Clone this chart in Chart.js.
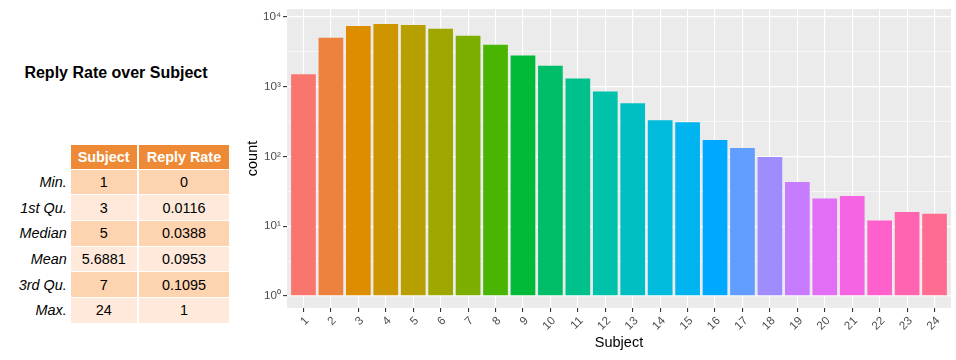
<!DOCTYPE html>
<html>
<head>
<meta charset="utf-8">
<script src="https://cdn.jsdelivr.net/npm/chart.js@4/dist/chart.umd.min.js"></script>
<style>
  html, body { margin: 0; padding: 0; background: #ffffff; }
  body { width: 956px; height: 360px; position: relative; overflow: hidden; font-family: "Liberation Sans", Arial, Helvetica, sans-serif; }
  #title { position: absolute; left: 0; width: 232px; top: 64px; text-align: center; font-weight: bold; font-size: 16px; color: #000; white-space: nowrap; }
  .cell { position: absolute; box-sizing: border-box; font-size: 14.4px; color: #000; display: flex; align-items: center; justify-content: center; white-space: nowrap; }
  .hdr { background: #EE8A35; color: #fff; font-weight: bold; }
  .lab { justify-content: flex-end; font-style: italic; padding-right: 4px; }
  #chartWrap { position: absolute; left: 230px; top: 0; width: 726px; height: 360px; }
</style>
</head>
<body>
<div id="title">Reply Rate over Subject</div>
<div id="tbl"></div>
<div id="chartWrap"><canvas id="c" width="726" height="360"></canvas></div>
<script>
// ---- data ----
const categories = ['1','2','3','4','5','6','7','8','9','10','11','12','13','14','15','16','17','18','19','20','21','22','23','24'];
const counts = [1510, 5030, 7450, 7950, 7690, 6750, 5370, 3990, 2790, 2000, 1310, 856, 577, 331, 309, 172, 132, 98, 43, 25, 27, 12, 16, 15];
const yTickValues = [1, 10, 100, 1000, 10000];
const yTickLabels = ['10\u2070', '10\u00B9', '10\u00B2', '10\u00B3', '10\u2074'];
const yMinorValues = [3.1623, 31.623, 316.23, 3162.3];

const tableHeader = ['Subject', 'Reply Rate'];
const statLabels = ['Min.', '1st Qu.', 'Median', 'Mean', '3rd Qu.', 'Max.'];
const subjectStats = ['1', '3', '5', '5.6881', '7', '24'];
const replyStats = ['0', '0.0116', '0.0388', '0.0953', '0.1095', '1'];

// ---- table ----
(function buildTable() {
  const tbl = document.getElementById('tbl');
  const colX = [0, 70.7, 137.7, 229.3];
  const headTop = 145, headH = 24.3, rowH = 25.67;
  function add(cls, x0, x1, y0, h, text, bg) {
    const d = document.createElement('div');
    d.className = 'cell ' + cls;
    d.style.left = x0 + 'px'; d.style.width = (x1 - x0) + 'px';
    d.style.top = y0 + 'px'; d.style.height = h + 'px';
    if (bg) d.style.background = bg;
    d.textContent = text;
    tbl.appendChild(d);
  }
  add('hdr', colX[1], colX[2] - 1, headTop, headH - 0.5, tableHeader[0]);
  add('hdr', colX[2] + 1, colX[3], headTop, headH - 0.5, tableHeader[1]);
  statLabels.forEach((lab, r) => {
    const y = headTop + headH + r * rowH;
    const bg = r % 2 === 0 ? '#FDD3B0' : '#FEE9DA';
    add('lab', colX[0], colX[1], y, rowH, lab);
    add('', colX[1], colX[2] - 1, y + 0.5, rowH - 1, subjectStats[r], bg);
    add('', colX[2] + 1, colX[3], y + 0.5, rowH - 1, replyStats[r], bg);
  });
})();

// ---- colours (ggplot default hue palette) ----
function hcl(h, c, l) {
  const hr = h * Math.PI / 180;
  const u = c * Math.cos(hr), v = c * Math.sin(hr);
  const Xn = 95.047, Yn = 100, Zn = 108.883;
  const den = Xn + 15 * Yn + 3 * Zn;
  const un = 4 * Xn / den, vn = 9 * Yn / den;
  const Y = l > 8 ? Yn * Math.pow((l + 16) / 116, 3) : Yn * l / 903.3;
  const up = u / (13 * l) + un, vp = v / (13 * l) + vn;
  const X = 9 * Y * up / (4 * vp);
  const Z = -X / 3 - 5 * Y + 3 * Y / vp;
  const x = X / 100, y = Y / 100, z = Z / 100;
  let rgb = [
    3.240479 * x - 1.537150 * y - 0.498535 * z,
    -0.969256 * x + 1.875992 * y + 0.041556 * z,
    0.055648 * x - 0.204043 * y + 1.057311 * z
  ];
  rgb = rgb.map(t => {
    t = t > 0.00304 ? 1.055 * Math.pow(t, 1 / 2.4) - 0.055 : 12.92 * t;
    return Math.round(Math.min(1, Math.max(0, t)) * 255);
  });
  return 'rgb(' + rgb.join(',') + ')';
}
const colors = categories.map((c, i) => hcl(15 + 15 * i, 100, 65));

// ---- chart ----
const FONT = "'Liberation Sans', Arial, Helvetica, sans-serif";
const panelBg = {
  id: 'panelBg',
  beforeDraw(chart) {
    const a = chart.chartArea, ctx = chart.ctx;
    ctx.save();
    ctx.fillStyle = '#EBEBEB';
    ctx.fillRect(a.left, a.top, a.right - a.left, a.bottom - a.top);
    ctx.restore();
  }
};
const isMajorY = v => yTickValues.some(t => Math.abs(t - v) < 1e-6);

new Chart(document.getElementById('c'), {
  type: 'bar',
  data: {
    datasets: [{
      data: counts.map((v, i) => ({ x: i + 1, y: v })),
      backgroundColor: colors,
      borderWidth: 0,
      base: 1,
      barPercentage: 0.9,
      categoryPercentage: 1.0
    }]
  },
  options: {
    responsive: false,
    animation: false,
    layout: { padding: { top: 7, right: 5, left: 0, bottom: 0 } },
    plugins: { legend: { display: false }, tooltip: { enabled: false } },
    scales: {
      x: {
        type: 'linear',
        min: 0.4, max: 24.6,
        offset: false,
        afterBuildTicks: s => { s.ticks = categories.map((c, i) => ({ value: i + 1 })); },
        afterFit: s => { s.height = 52; },
        border: { display: false },
        grid: { color: '#FFFFFF', lineWidth: 1.1, tickColor: '#333333', tickLength: 4, tickWidth: 1.1, offset: false },
        ticks: {
          autoSkip: false, minRotation: 45, maxRotation: 45, padding: 2, labelOffset: 3.5,
          color: '#4D4D4D', font: { family: FONT, size: 11.7 },
          callback: (v, i) => categories[i]
        },
        title: { display: true, text: 'Subject', color: '#000000', font: { family: FONT, size: 14.5 }, padding: { top: 0, bottom: 8.3 } }
      },
      y: {
        type: 'logarithmic',
        min: 0.67, max: 13000,
        afterBuildTicks: s => {
          const all = yTickValues.concat(yMinorValues).sort((a, b) => a - b);
          s.ticks = all.map(v => ({ value: v }));
        },
        afterFit: s => { s.width = 57; },
        border: { display: false },
        grid: {
          color: '#FFFFFF',
          lineWidth: ctx => (ctx.tick && isMajorY(ctx.tick.value)) ? 1.2 : 0.6,
          tickColor: ctx => (ctx.tick && isMajorY(ctx.tick.value)) ? '#333333' : 'rgba(0,0,0,0)',
          tickLength: 4, tickWidth: 1.1
        },
        ticks: {
          autoSkip: false, padding: 2,
          color: '#4D4D4D', font: { family: FONT, size: 11.7 },
          callback: v => { const k = yTickValues.findIndex(t => Math.abs(t - v) < 1e-6); return k >= 0 ? yTickLabels[k] : ''; }
        },
        title: { display: true, text: 'count', color: '#000000', font: { family: FONT, size: 14.5 }, padding: { top: 13.8, bottom: 0 } }
      }
    }
  },
  plugins: [panelBg]
});
</script>
</body>
</html>
